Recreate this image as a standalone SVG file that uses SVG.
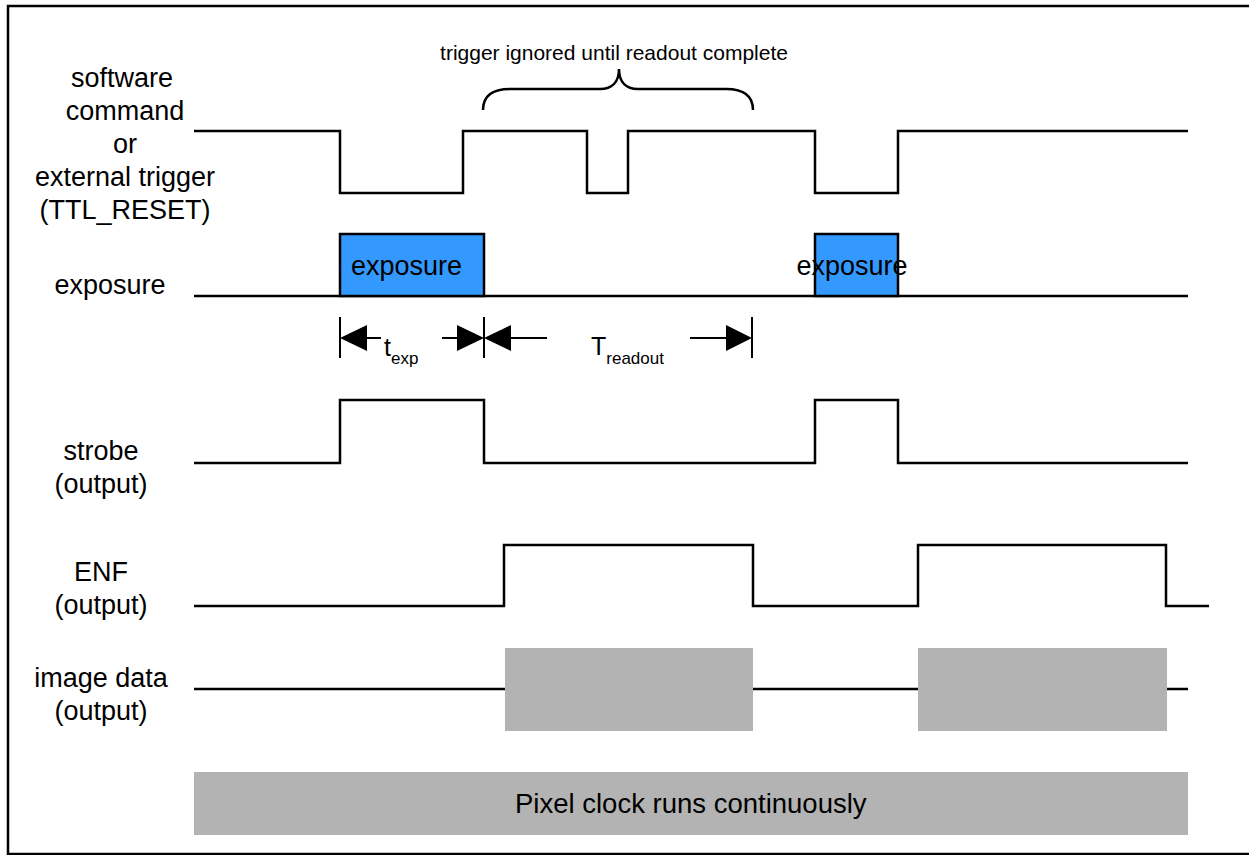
<svg xmlns="http://www.w3.org/2000/svg" width="1249" height="855" viewBox="0 0 1249 855">
<style>
  .lbl { font-family: "Liberation Sans", Arial, sans-serif; font-size: 27px; fill: #000; text-anchor: middle; }
  .txt { font-family: "Liberation Sans", Arial, sans-serif; fill: #000; }
  .sig { fill: none; stroke: #000; stroke-width: 2.5; stroke-linejoin: miter; }
  .tick { stroke: #000; stroke-width: 2; }
  .exp { fill: #3399FF; stroke: #000; stroke-width: 2.5; }
  .gray { fill: #B3B3B3; stroke: none; }
  .tri { fill: #000; stroke: none; }
</style>
<rect x="0" y="0" width="1249" height="855" fill="#fff"/>
<rect x="8" y="6" width="1260" height="848" fill="none" stroke="#000" stroke-width="2.5"/>

<g id="labels">
  <text class="lbl" x="122" y="87">software</text>
  <text class="lbl" x="125" y="120">command</text>
  <text class="lbl" x="125" y="153">or</text>
  <text class="lbl" x="125" y="186">external trigger</text>
  <text class="lbl" x="125" y="219">(TTL_RESET)</text>
  <text class="lbl" x="110" y="294">exposure</text>
  <text class="lbl" x="101" y="460">strobe</text>
  <text class="lbl" x="101" y="493">(output)</text>
  <text class="lbl" x="101" y="581">ENF</text>
  <text class="lbl" x="101" y="614">(output)</text>
  <text class="lbl" x="101" y="687">image data</text>
  <text class="lbl" x="101" y="720">(output)</text>
</g>

<g id="annotation">
  <text class="txt" x="614" y="60" font-size="21" text-anchor="middle">trigger ignored until readout complete</text>
  <path class="sig" stroke-width="2.5" d="M483,110 C483,96 492,89 510,89 L600,89 C612,89 619,82 619,69 C619,82 626,89 638,89 L726,89 C744,89 753,96 753,110"/>
</g>

<g id="connectors">
  <path id="trigger" class="sig" d="M194,131 H340 V193 H463 V131 H587 V193 H628 V131 H815 V193 H898 V131 H1188"/>
  <path id="exposure-line" class="sig" stroke-width="3" d="M194,296 H1188"/>
  <path id="strobe" class="sig" d="M194,463 H340 V400 H484 V463 H815 V400 H898 V463 H1188"/>
  <path id="enf" class="sig" d="M194,606 H504 V545 H753 V606 H918 V545 H1166 V606 H1209"/>
  <path id="image-line" class="sig" stroke-width="3" d="M194,689 H1188"/>
</g>

<g id="exposure1">
  <rect class="exp" x="340" y="234" width="144" height="62"/>
  <text class="txt" x="351" y="275" font-size="27">exposure</text>
</g>
<g id="exposure2">
  <rect class="exp" x="815" y="234" width="83" height="62"/>
  <text class="txt" x="852" y="275" font-size="27" text-anchor="middle">exposure</text>
</g>

<g id="image1"><rect class="gray" x="505" y="648" width="248" height="83"/></g>
<g id="image2"><rect class="gray" x="918" y="648" width="249" height="83"/></g>

<g id="pixelclock">
  <rect class="gray" x="194" y="772" width="994" height="63"/>
  <text class="txt" x="515" y="813" font-size="27.5">Pixel clock runs continuously</text>
</g>

<g id="dimensions">
  <line class="tick" x1="340" y1="317" x2="340" y2="358"/>
  <line class="tick" x1="484" y1="317" x2="484" y2="358"/>
  <line class="tick" x1="752" y1="317" x2="752" y2="358"/>
  <polygon class="tri" points="340,338 367,325 367,351"/>
  <line class="tick" x1="366" y1="338" x2="381" y2="338"/>
  <polygon class="tri" points="484,338 457,325 457,351"/>
  <line class="tick" x1="442" y1="338" x2="458" y2="338"/>
  <polygon class="tri" points="484,338 511,325 511,351"/>
  <line class="tick" x1="510" y1="338" x2="547" y2="338"/>
  <polygon class="tri" points="752,338 726,325 726,351"/>
  <line class="tick" x1="690" y1="338" x2="727" y2="338"/>
  <text class="txt" x="384" y="356" font-size="25">t<tspan font-size="17" dy="8">exp</tspan></text>
  <text class="txt" x="591" y="355" font-size="25">T<tspan font-size="17" dy="9">readout</tspan></text>
</g>
</svg>
